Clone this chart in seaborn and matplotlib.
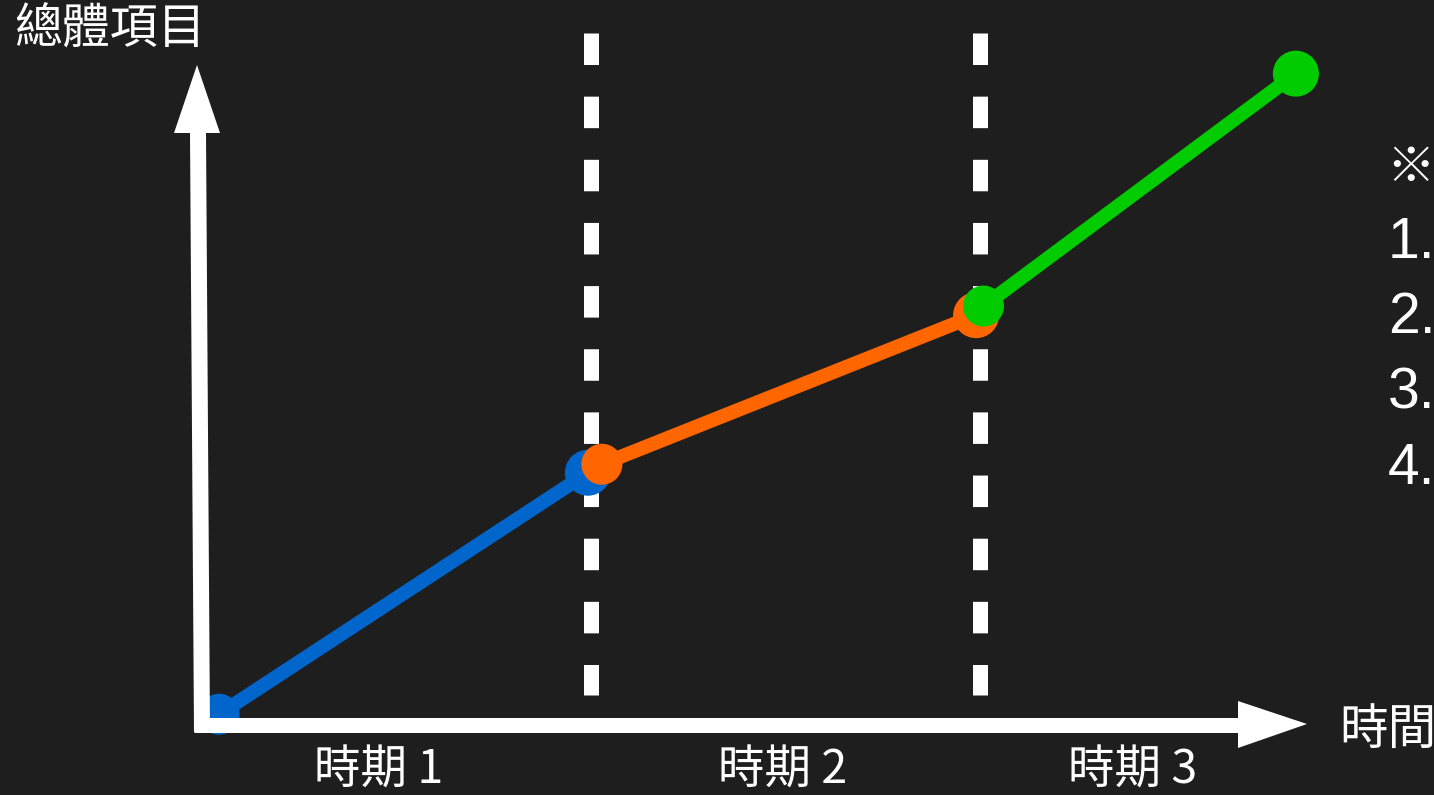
import numpy as np
import pandas as pd
import matplotlib
matplotlib.use("Agg")
import matplotlib.pyplot as plt
import seaborn as sns

# ---------------- data ----------------
seg_names = ["時期 1", "時期 2", "時期 3"]
seg_colors = ["#0066cc", "#ff6600", "#00cc00"]
seg_x_start = [0.044, 1.028, 2.009]
seg_x_end = [0.992, 1.990, 2.812]
seg_y_start = [1.5, 39.9, 64.2]
seg_y_end = [38.6, 62.8, 99.9]
boundaries = [1.0, 2.0]
y_label = "總體項目"
x_label = "時間"
note_lines = ["※", "1.", "2.", "3.", "4."]

BG = "#1e1e1e"
W, H = 1434, 795
DPI = 100

sns.set_theme(style="white")
plt.rcParams["font.family"] = ["Noto Sans CJK TC", "DejaVu Sans"]

fig = plt.figure(figsize=(W / DPI, H / DPI), dpi=DPI, facecolor=BG)
ax = fig.add_axes([0, 0, 1, 1])
ax.set_facecolor(BG)

# data <-> pixel mapping: x origin at px 202, 389 px per period; y origin at px 724, 6.51 px per unit
X0, XS = 202.0, 389.0
Y0, YS = 724.0, 6.51
ax.set_xlim((0 - X0) / XS, (W - X0) / XS)
ax.set_ylim((Y0 - H) / YS, (Y0 - 0) / YS)
ax.axis("off")

def px(xp, yp):
    return (xp - X0) / XS, (Y0 - yp) / YS

def pt(pixels):
    return pixels * 72.0 / DPI

# dashed period boundaries
for b in boundaries:
    ax.plot([b, b], [px(0, 33)[1], px(0, 695)[1]], color="white", lw=pt(15),
            linestyle=(0, (2.1, 2.11)), solid_capstyle="butt", dash_capstyle="butt", zorder=1)

# segments
df = pd.DataFrame({
    "segment": np.repeat(seg_names, 2),
    "x": np.ravel(np.column_stack([seg_x_start, seg_x_end])),
    "y": np.ravel(np.column_stack([seg_y_start, seg_y_end])),
    "pos": ["start", "end"] * len(seg_names),
})
for i, (name, col) in enumerate(zip(seg_names, seg_colors)):
    sub = df[df["segment"] == name]
    sns.lineplot(data=sub, x="x", y="y", color=col, lw=pt(14), sort=False,
                 ax=ax, legend=False, zorder=2)
    sizes = [pt(41) ** 2 if p == "start" else pt(46) ** 2 for p in sub["pos"]]
    sns.scatterplot(data=sub, x="x", y="y", color=col, s=sizes, linewidth=0,
                    ax=ax, legend=False, zorder=3 + i)

# axes arrows
xa, ya = px(202, 732)
xb, yb = px(198, 133)
ax.plot([xa, xb], [ya, yb], color="white", lw=pt(16), solid_capstyle="butt", zorder=10)
tri = [px(197, 65), px(174, 133), px(220, 133)]
ax.fill([p[0] for p in tri], [p[1] for p in tri], color="white", lw=0, zorder=10)
xa, ya = px(194, 724.5)
xb, yb = px(1239, 724.5)
ax.plot([xa, xb], [ya, yb], color="white", lw=pt(15), solid_capstyle="butt", zorder=10)
tri = [px(1307, 724), px(1238, 701), px(1238, 748)]
ax.fill([p[0] for p in tri], [p[1] for p in tri], color="white", lw=0, zorder=10)

def ftext(xp, yp, s, **kw):
    fig.text(xp / W, 1 - yp / H, s, color="white", **kw)

# labels
ftext(14, 30, y_label, fontsize=34.5, ha="left", va="center", fontweight="medium")
ftext(1339, 730, x_label, fontsize=35, ha="left", va="center", fontweight="medium")
for cx, name in zip([378.5, 782.5, 1133], seg_names):
    ftext(cx, 770, name, fontsize=33.5, ha="center", va="center", fontweight="medium")

# right-hand notes (clipped by figure edge)
for k, line in enumerate(note_lines):
    is_mark = line == "※"
    ftext(1386 if is_mark else 1388, 183 + 75.2 * k, line,
          fontsize=35 if is_mark else 41, ha="left", va="baseline",
          family=["Liberation Sans", "Noto Sans CJK TC", "DejaVu Sans"])

fig.savefig("out.png", dpi=DPI, facecolor=BG)
